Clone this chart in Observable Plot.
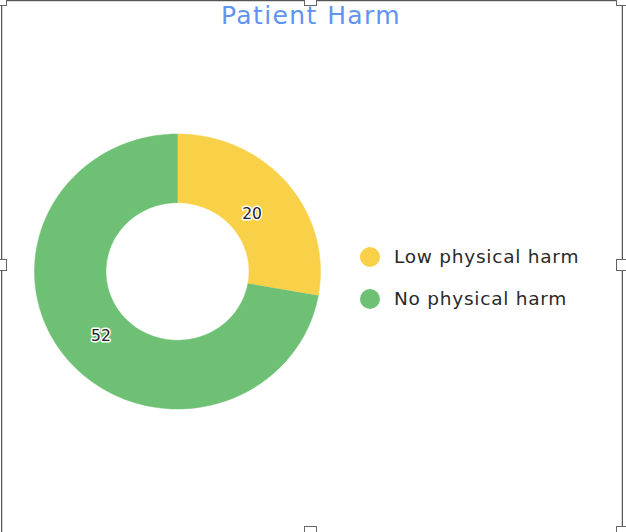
<!DOCTYPE html>
<html>
<head>
<meta charset="utf-8">
<script src="https://cdn.jsdelivr.net/npm/d3@7"></script>
<script src="https://cdn.jsdelivr.net/npm/@observablehq/plot@0.6"></script>
<style>
  html, body { margin: 0; padding: 0; background: #fff; }
  #wrap { position: relative; width: 626px; height: 532px; overflow: hidden; background: #fff; font-family: "DejaVu Sans", Verdana, sans-serif; }
  #title { position: absolute; left: 0; width: 622px; top: 0px; text-align: center; font-size: 25px; letter-spacing: 1.4px; color: #6193f2; line-height: 32px; }
  #chart { position: absolute; left: 0; top: 0; }
  .legend-item { position: absolute; left: 360px; display: flex; align-items: center; font-size: 18.5px; letter-spacing: 0.75px; color: #2a2a2a; }
  .legend-item .sw { width: 20px; height: 20px; border-radius: 50%; margin-right: 14px; }
  .frame { position: absolute; background: #555; }
  .shade { position: absolute; background: #d8d8d8; }
  .handle { position: absolute; width: 13px; height: 12px; background: #fff; border: 1px solid #666; box-sizing: border-box; }
</style>
</head>
<body>
<div id="wrap">
  <div class="frame" style="left:1px;top:0;width:1px;height:532px"></div>
  <div class="shade" style="left:2px;top:1px;width:1px;height:531px"></div>
  <div class="frame" style="left:1px;top:0;width:622px;height:1px"></div>
  <div class="shade" style="left:2px;top:1px;width:620px;height:1px"></div>
  <div class="frame" style="left:622px;top:0;width:1px;height:532px"></div>
  <div class="shade" style="left:621px;top:2px;width:1px;height:530px"></div>
  <div id="chart"></div>
  <div id="title"></div>
  <div id="legend"></div>
  <div class="handle" style="left:304px;top:-6px"></div>
  <div class="handle" style="left:304px;top:526px"></div>
  <div class="handle" style="left:-6px;top:259px"></div>
  <div class="handle" style="left:616px;top:259px"></div>
  <div class="handle" style="left:616px;top:-6px"></div>
  <div class="handle" style="left:616px;top:526px"></div>
  <div class="handle" style="left:-6px;top:-6px"></div>
</div>
<script>
const titleText = "Patient Harm";
const categories = ["Low physical harm", "No physical harm"];
const values = [20, 52];
const colors = ["#f8d148", "#6ec074"];

document.getElementById("title").textContent = titleText;

// Pie layout (clockwise from 12 o'clock, no sorting)
const pie = d3.pie().sort(null).value(d => d.value)(categories.map((c, i) => ({cat: c, value: values[i]})));
const inner = 0.5, outer = 1, labelR = 0.69;

const poly = [];
for (const p of pie) {
  const n = 120;
  for (let k = 0; k <= n; k++) {
    const a = p.startAngle + (p.endAngle - p.startAngle) * k / n;
    poly.push({cat: p.data.cat, x: outer * Math.sin(a), y: outer * Math.cos(a)});
  }
  for (let k = n; k >= 0; k--) {
    const a = p.startAngle + (p.endAngle - p.startAngle) * k / n;
    poly.push({cat: p.data.cat, x: inner * Math.sin(a), y: inner * Math.cos(a)});
  }
}
const labels = pie.map(p => {
  const a = (p.startAngle + p.endAngle) / 2;
  return {cat: p.data.cat, value: p.data.value, x: labelR * Math.sin(a), y: labelR * Math.cos(a)};
});

const cx = 177, cy = 271, rx = 143, ry = 137.5;
const chart = Plot.plot({
  width: 626,
  height: 532,
  margin: 0,
  style: {background: "transparent", overflow: "visible"},
  x: {domain: [-1, 1], range: [cx - rx, cx + rx], axis: null},
  y: {domain: [-1, 1], range: [cy + ry, cy - ry], axis: null},
  color: {domain: categories, range: colors},
  marks: [
    Plot.line(poly, {x: "x", y: "y", z: "cat", fill: "cat", stroke: "cat", strokeWidth: 0.5, curve: "linear"}),
    Plot.text(labels, {x: "x", y: "y", dy: 4, dx: -1, text: d => String(d.value), fill: "#222", stroke: "white", strokeWidth: 3, fontSize: 15.5, letterSpacing: 0.5, fontFamily: "DejaVu Sans, Verdana, sans-serif"})
  ]
});
document.getElementById("chart").appendChild(chart);

const legend = document.getElementById("legend");
categories.forEach((c, i) => {
  const item = document.createElement("div");
  item.className = "legend-item";
  item.style.top = (246 + i * 42) + "px";
  item.innerHTML = `<span class="sw" style="background:${colors[i]}"></span><span>${c}</span>`;
  legend.appendChild(item);
});
</script>
</body>
</html>
